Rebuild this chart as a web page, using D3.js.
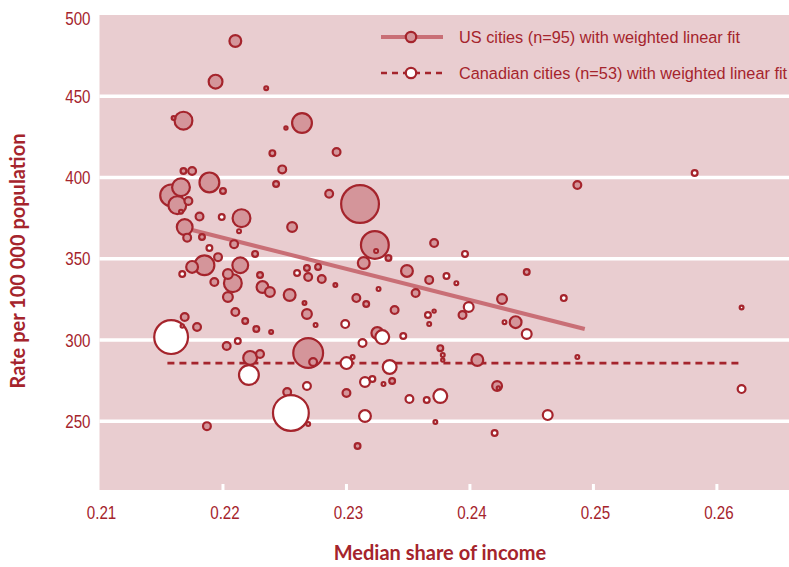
<!DOCTYPE html>
<html>
<head>
<meta charset="utf-8">
<script src="https://cdn.jsdelivr.net/npm/d3@7/dist/d3.min.js"></script>
<style>
  html, body { margin: 0; padding: 0; background: #ffffff; }
  svg { display: block; }
</style>
</head>
<body>
<svg id="chart" width="789" height="567"></svg>
<script>
// Median share of income vs. rate per 100 000 population, bubble size = city population (thousands)

// US cities: [median share of income, rate, population]
const usCities = [
  [0.2210, 484.0, 980], [0.2194, 459.0, 1280], [0.2235, 455.0, 180], [0.2168, 435.0, 2000],
  [0.2264, 433.5, 2420], [0.2160, 436.6, 180], [0.2251, 430.5, 80], [0.2240, 415.0, 320],
  [0.2292, 415.7, 500], [0.2248, 405.0, 500], [0.2243, 396.0, 320], [0.2168, 404.0, 320],
  [0.2175, 404.0, 500], [0.2189, 397.0, 2420], [0.2166, 394.0, 2000], [0.2200, 391.7, 320],
  [0.2158, 389.0, 2880], [0.2163, 383.0, 2000], [0.2172, 385.5, 500], [0.2166, 379.0, 180],
  [0.2181, 376.0, 500], [0.2215, 375.0, 2000], [0.2256, 369.5, 720], [0.2169, 369.5, 1620],
  [0.2171, 363.0, 500], [0.2183, 363.4, 320], [0.2209, 359.0, 500], [0.2226, 353.0, 320],
  [0.2196, 351.0, 500], [0.2185, 346.0, 2420], [0.2175, 345.0, 980], [0.2214, 346.0, 1620],
  [0.2204, 340.6, 720], [0.2208, 335.0, 2000], [0.2193, 335.7, 500], [0.2230, 340.0, 320],
  [0.2232, 332.6, 980], [0.2238, 329.5, 720], [0.2254, 327.7, 980], [0.2204, 326.5, 720],
  [0.2286, 390.0, 500], [0.2311, 383.7, 8000], [0.2323, 358.5, 4500], [0.2334, 350.5, 320],
  [0.2314, 347.4, 980], [0.2371, 359.7, 500], [0.2268, 344.3, 320], [0.2277, 345.0, 320],
  [0.2269, 338.8, 500], [0.2280, 337.5, 500], [0.2291, 333.8, 180], [0.2349, 342.5, 980],
  [0.2367, 337.0, 500], [0.2266, 322.8, 180], [0.2308, 325.8, 500], [0.2316, 322.2, 320],
  [0.2356, 328.9, 500], [0.2394, 315.4, 500], [0.2268, 316.0, 720], [0.2339, 318.5, 500],
  [0.2325, 304.3, 980], [0.2269, 292.0, 5120], [0.2273, 286.5, 500], [0.2376, 295.0, 320],
  [0.2406, 287.7, 980], [0.2337, 274.8, 320], [0.2252, 268.0, 500], [0.2300, 267.4, 500],
  [0.2309, 234.8, 320], [0.2169, 314.2, 500], [0.2179, 308.0, 500], [0.2203, 296.3, 500],
  [0.2210, 317.2, 500], [0.2218, 311.7, 320], [0.2227, 306.8, 320], [0.2239, 305.0, 180],
  [0.2222, 289.0, 1280], [0.2230, 291.4, 500], [0.2187, 247.0, 500], [0.2487, 395.4, 500],
  [0.2446, 341.8, 320], [0.2426, 325.2, 720], [0.2437, 311.0, 980], [0.2422, 271.7, 720]
];

// Canadian cities: [median share of income, rate, population]
const canadianCities = [
  [0.2199, 375.7, 320], [0.2213, 367.0, 180], [0.2189, 356.6, 320], [0.2167, 340.6, 320],
  [0.2260, 341.2, 320], [0.2167, 308.6, 80], [0.2158, 301.8, 6480], [0.2212, 299.4, 320],
  [0.2221, 278.5, 2420], [0.2255, 255.1, 7220], [0.2324, 354.8, 180], [0.2396, 353.0, 320],
  [0.2326, 331.4, 180], [0.2381, 339.4, 320], [0.2389, 335.0, 180], [0.2399, 320.3, 720],
  [0.2275, 309.2, 180], [0.2299, 309.8, 500], [0.2366, 315.4, 320], [0.2371, 317.8, 80],
  [0.2367, 309.8, 180], [0.2313, 298.2, 500], [0.2329, 301.8, 1280], [0.2346, 302.5, 320],
  [0.2300, 285.8, 980], [0.2305, 289.5, 180], [0.2335, 283.4, 1280], [0.2378, 290.8, 180],
  [0.2378, 287.7, 80], [0.2315, 274.2, 720], [0.2321, 276.0, 320], [0.2330, 272.9, 180],
  [0.2268, 271.7, 500], [0.2351, 263.7, 500], [0.2365, 263.1, 320], [0.2376, 265.5, 1280],
  [0.2269, 248.3, 180], [0.2315, 253.2, 980], [0.2372, 249.5, 180], [0.2582, 402.8, 320],
  [0.2476, 325.8, 320], [0.2428, 311.0, 180], [0.2446, 303.7, 720], [0.2620, 320.0, 180],
  [0.2487, 289.5, 180], [0.2423, 270.5, 80], [0.2620, 269.8, 500], [0.2463, 253.8, 720],
  [0.2420, 242.8, 320]
];

// Weighted linear fits: end points [x, y]
const usFit = [[0.2175, 367.7], [0.2493, 306.8]];
const canadianFit = [[0.2155, 285.8], [0.2620, 285.8]];

const xTickValues = [0.21, 0.22, 0.23, 0.24, 0.25, 0.26];
const yTickValues = [250, 300, 350, 400, 450, 500];
const legendLabels = [
  "US cities (n=95) with weighted linear fit",
  "Canadian cities (n=53) with weighted linear fit"
];
const xTitle = "Median share of income";
const yTitle = "Rate per 100 000 population";

const INK = "#a5242c";
const PANEL = "#e9cdd0";
const US_FILL = "#d4959a";
const US_LINE = "#c96f76";
const LABEL_FONT = "'Liberation Sans', Arial, sans-serif";
const TITLE_FONT = "Lato, 'Open Sans', sans-serif";
const NARROW = 0.82; // horizontal squeeze for condensed tick labels

const svg = d3.select("#chart");
const plot = { left: 99.5, right: 789, top: 15, bottom: 490 };

const x = d3.scaleLinear().domain([0.21, 0.26584]).range([plot.left, plot.right]);
const y = d3.scaleLinear().domain([207.7, 500]).range([plot.bottom, plot.top]);
const r = d3.scaleSqrt().domain([0, 8000]).range([0, 20]);

// panel
svg.append("rect")
  .attr("x", plot.left).attr("y", plot.top)
  .attr("width", plot.right - plot.left).attr("height", plot.bottom - plot.top)
  .attr("fill", PANEL);

// white horizontal grid lines
svg.append("g").selectAll("line")
  .data(yTickValues.filter(v => v < 500))
  .join("line")
  .attr("x1", plot.left).attr("x2", plot.right)
  .attr("y1", d => y(d)).attr("y2", d => y(d))
  .attr("stroke", "#ffffff").attr("stroke-width", 3.4);

// short white ticks along the bottom edge
svg.append("g").selectAll("line")
  .data(xTickValues.filter(v => v > 0.21))
  .join("line")
  .attr("x1", d => x(d)).attr("x2", d => x(d))
  .attr("y1", plot.bottom - 6).attr("y2", plot.bottom)
  .attr("stroke", "#ffffff").attr("stroke-width", 3);

// y tick labels
svg.append("g").selectAll("text")
  .data(yTickValues)
  .join("text")
  .attr("transform", d => `translate(90.5,${Math.max(y(d), 18.5)}) scale(${NARROW},1)`)
  .attr("dy", "0.36em")
  .attr("text-anchor", "end")
  .attr("font-family", LABEL_FONT)
  .attr("font-size", 18.5)
  .attr("fill", INK)
  .text(d => d);

// x tick labels
svg.append("g").selectAll("text")
  .data(xTickValues)
  .join("text")
  .attr("transform", d => `translate(${x(d) + 2},512.5) scale(${NARROW},1)`)
  .attr("dy", "0.36em")
  .attr("text-anchor", "middle")
  .attr("font-family", LABEL_FONT)
  .attr("font-size", 18.5)
  .attr("fill", INK)
  .text(d => d3.format(".2f")(d));

// axis titles
svg.append("text")
  .attr("x", 440).attr("y", 553)
  .attr("dy", "0.35em")
  .attr("text-anchor", "middle")
  .attr("font-family", TITLE_FONT)
  .attr("font-weight", 700)
  .attr("font-size", 20)
  .attr("fill", INK)
  .text(xTitle);

svg.append("text")
  .attr("transform", "translate(18,261) rotate(-90)")
  .attr("dy", "0.35em")
  .attr("text-anchor", "middle")
  .attr("font-family", TITLE_FONT)
  .attr("font-weight", 700)
  .attr("font-size", 20)
  .attr("fill", INK)
  .text(yTitle);

// fit lines (under the bubbles)
const line = d3.line().x(d => x(d[0])).y(d => y(d[1]));
svg.append("path")
  .datum(usFit)
  .attr("d", line)
  .attr("fill", "none")
  .attr("stroke", US_LINE)
  .attr("stroke-width", 4);

svg.append("path")
  .datum(canadianFit)
  .attr("d", line)
  .attr("fill", "none")
  .attr("stroke", INK)
  .attr("stroke-width", 2.6)
  .attr("stroke-dasharray", "7,5");

// bubbles: largest drawn first so small cities stay visible
function bubbles(data, fill) {
  const sorted = data.slice().sort((a, b) => b[2] - a[2]);
  svg.append("g").selectAll("circle")
    .data(sorted)
    .join("circle")
    .attr("cx", d => x(d[0]))
    .attr("cy", d => y(d[1]))
    .attr("r", d => Math.max(1.6, r(d[2]) - 1.1))
    .attr("fill", fill)
    .attr("stroke", INK)
    .attr("stroke-width", 2.2);
}
bubbles(usCities, US_FILL);
bubbles(canadianCities, "#ffffff");

// legend
const legend = svg.append("g");
const legendRows = [
  { label: legendLabels[0], fill: US_FILL, stroke: US_LINE, width: 4, dash: null, y: 37 },
  { label: legendLabels[1], fill: "#ffffff", stroke: INK, width: 2.6, dash: "6,5", y: 73 }
];
legendRows.forEach(row => {
  legend.append("line")
    .attr("x1", 381).attr("x2", 443)
    .attr("y1", row.y).attr("y2", row.y)
    .attr("stroke", row.stroke)
    .attr("stroke-width", row.width)
    .attr("stroke-dasharray", row.dash);
  legend.append("circle")
    .attr("cx", 411).attr("cy", row.y).attr("r", 5.2)
    .attr("fill", row.fill)
    .attr("stroke", INK).attr("stroke-width", 2.2);
  legend.append("text")
    .attr("x", 459).attr("y", row.y)
    .attr("dy", "0.36em")
    .attr("font-family", LABEL_FONT)
    .attr("font-size", 16.3)
    .attr("fill", INK)
    .text(row.label);
});
</script>
</body>
</html>
